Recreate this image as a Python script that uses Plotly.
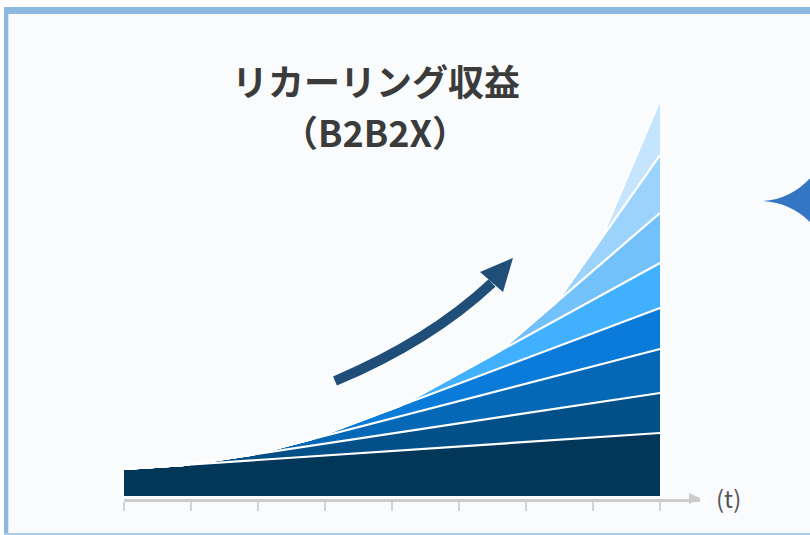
import plotly.graph_objects as go

# ---- data ----
# time axis ticks (t)
tick_t = [0, 1, 2, 3, 4, 5, 6, 7, 8]
# revenue layers: each cohort starts at a time and grows to the end value
layer_names = ["L1", "L2", "L3", "L4", "L5", "L6", "L7", "L8"]
layer_start_t = [0.0, 0.87, 1.91, 2.78, 4.12, 5.61, 6.46, 7.12]
layer_start_val = [27, 0, 0, 0, 0, 0, 0, 0]
layer_end_t = 8
layer_end_val = [63, 40, 44, 41, 45, 50, 58, 55]
layer_colors = ["#02375a", "#034f87", "#0468b6", "#0a7bd8",
                "#40b0ff", "#73c1fb", "#9cd3fd", "#c4e5fd"]

title_1 = "リカーリング収益"
title_2 = "（B2B2X）"
axis_label = "(t)"

# ---- layout geometry ----
W, H = 810, 535
ML, MR, MT, MB = 124, 110, 0, 36
PW, PH = W - ML - MR, H - MT - MB


def px(x):
    return (x - ML) / PW


def py(y):
    return (H - MB - y) / PH


fig = go.Figure()
for name, s, v0, v1, col in zip(layer_names, layer_start_t, layer_start_val,
                                layer_end_val, layer_colors):
    fig.add_trace(go.Scatter(
        x=[s, layer_end_t], y=[v0, v1], name=name, mode="lines",
        stackgroup="rev", stackgaps="interpolate",
        line=dict(color="white", width=2.2), fillcolor=col,
        hoverinfo="skip", showlegend=False))

shapes = []
# frame background and borders
shapes.append(dict(type="rect", xref="paper", yref="paper", layer="below",
                   x0=px(8), x1=px(812), y0=py(14), y1=py(533),
                   fillcolor="#f9fbfd", line=dict(width=0)))
shapes.append(dict(type="rect", xref="paper", yref="paper", layer="below",
                   x0=px(4), x1=px(8.3), y0=py(7), y1=py(534),
                   fillcolor="#8cb9e2", line=dict(width=0)))
shapes.append(dict(type="rect", xref="paper", yref="paper", layer="below",
                   x0=px(4), x1=px(812), y0=py(7), y1=py(14),
                   fillcolor="#8cb9e2", line=dict(width=0)))
shapes.append(dict(type="rect", xref="paper", yref="paper", layer="below",
                   x0=px(4), x1=px(812), y0=py(533), y1=py(536),
                   fillcolor="#a9cced", line=dict(width=0)))

# axis arrow head
shapes.append(dict(type="path", xref="paper", yref="paper",
                   path=f"M {px(689)},{py(493)} L {px(701)},{py(498.5)} L {px(689)},{py(504)} Z",
                   fillcolor="#cccccc", line=dict(width=0)))

# growth arrow (shaft + head)
S, C, E = (335, 381), (430, 341), (492, 283)
shapes.append(dict(type="path", xref="paper", yref="paper",
                   path=f"M {px(S[0])},{py(S[1])} Q {px(C[0])},{py(C[1])} {px(E[0])},{py(E[1])}",
                   line=dict(color="#1f4e79", width=10)))
shapes.append(dict(type="path", xref="paper", yref="paper",
                   path=f"M {px(480)},{py(272)} L {px(513)},{py(258)} L {px(503)},{py(292)} Z",
                   fillcolor="#1f4e79", line=dict(width=0)))

# partial decorative shape at right edge
shapes.append(dict(type="path", xref="paper", yref="paper",
                   path=(f"M {px(812)},{py(176)} Q {px(792)},{py(199)} {px(763)},{py(201)} "
                         f"Q {px(792)},{py(203)} {px(812)},{py(224)} Z"),
                   fillcolor="#3376c4", line=dict(width=0)))

annotations = [
    dict(text="<b>" + title_1 + "</b>", xref="paper", yref="paper",
         x=px(376), y=py(80), showarrow=False, xanchor="center", yanchor="middle",
         font=dict(family="Noto Sans CJK JP", size=36, color="#3b3b3b")),
    dict(text="<b>" + title_2 + "</b>", xref="paper", yref="paper",
         x=px(375), y=py(131), showarrow=False, xanchor="center", yanchor="middle",
         font=dict(family="Noto Sans CJK JP", size=36, color="#3b3b3b")),
    dict(text=axis_label, xref="paper", yref="paper",
         x=px(728), y=py(497), showarrow=False, xanchor="center", yanchor="middle",
         font=dict(family="Noto Sans CJK JP", size=24, color="#555555")),
]

fig.update_layout(
    width=W, height=H,
    margin=dict(l=ML, r=MR, t=MT, b=MB, pad=0),
    paper_bgcolor="white", plot_bgcolor="rgba(0,0,0,0)",
    shapes=shapes, annotations=annotations,
    xaxis=dict(range=[0, PW / 67.0], tickvals=tick_t, ticks="outside",
               ticklen=9, tickwidth=2, tickcolor="#d3d3d3",
               showline=True, linecolor="#cccccc", linewidth=3,
               showticklabels=False, showgrid=False, zeroline=False,
               fixedrange=True),
    yaxis=dict(range=[-3, PH - 3], visible=False, showgrid=False,
               zeroline=False, fixedrange=True),
)

# remove the browser's default page margin so the figure sits at the window origin
fig.write_html("out.html",
               config={"displayModeBar": False, "staticPlot": True},
               post_script="document.body.style.margin='0';document.body.style.overflow='hidden';")
